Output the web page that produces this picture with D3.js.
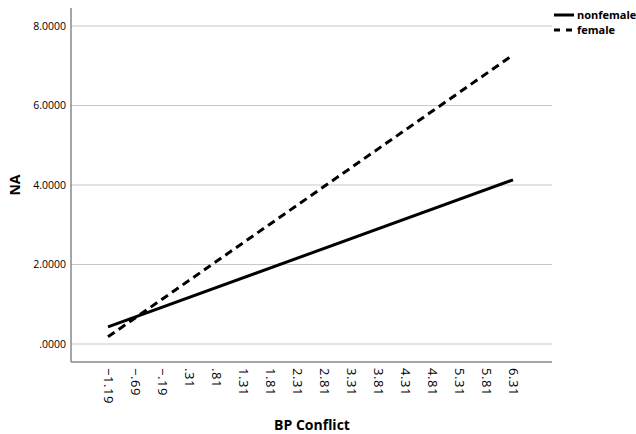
<!DOCTYPE html>
<html>
<head>
<meta charset="utf-8">
<script src="https://cdn.jsdelivr.net/npm/d3@7"></script>
<style>
  html, body { margin: 0; padding: 0; background: #fff; }
  svg { display: block; }
  text { font-family: "Open Sans", "DejaVu Sans", sans-serif; fill: #000; }
</style>
</head>
<body>
<svg id="chart" width="636" height="434"></svg>
<script>
// Category labels on the BP Conflict axis
const xCategories = ["-1.19", "-.69", "-.19", ".31", ".81", "1.31", "1.81", "2.31",
                     "2.81", "3.31", "3.81", "4.31", "4.81", "5.31", "5.81", "6.31"];
// Predicted NA at the ends of the BP Conflict range
const lineX = ["-1.19", "6.31"];
const nonfemaleValues = [0.43, 4.13];
const femaleValues = [0.18, 7.27];
const yTicks = [0, 2, 4, 6, 8];
const seriesNames = ["nonfemale", "female"];

const svg = d3.select("#chart");
const plot = { left: 71, right: 552, top: 8, bottom: 362 };

const x = d3.scalePoint()
  .domain(xCategories)
  .range([108, 513]);

const y = d3.scaleLinear()
  .domain([0, 8])
  .range([344, 26]);

// horizontal gridlines
svg.append("g")
  .selectAll("line")
  .data(yTicks)
  .join("line")
  .attr("x1", plot.left)
  .attr("x2", plot.right)
  .attr("y1", d => y(d))
  .attr("y2", d => y(d))
  .attr("stroke", "#c8c8c8")
  .attr("stroke-width", 1);

// y axis
const yAxis = svg.append("g")
  .attr("transform", `translate(${plot.left},0)`)
  .call(d3.axisLeft(y).tickValues(yTicks).tickSize(0).tickPadding(5)
    .tickFormat(d => d === 0 ? ".0000" : d3.format(".4f")(d)));
yAxis.select(".domain").remove();
yAxis.selectAll("text")
  .attr("font-size", 10.5)
  .attr("font-family", "\"Open Sans\", sans-serif")
  .attr("fill", "#111");
svg.append("line")
  .attr("x1", plot.left).attr("x2", plot.left)
  .attr("y1", plot.top).attr("y2", plot.bottom)
  .attr("stroke", "#888").attr("stroke-width", 1.5);

// x axis
const fmtX = s => s.replace("-", "\u2212");
const xAxis = svg.append("g")
  .attr("transform", `translate(0,${plot.bottom})`)
  .call(d3.axisBottom(x).tickSize(0).tickFormat(fmtX));
xAxis.select(".domain").remove();
xAxis.selectAll("text")
  .attr("font-size", 13)
  .attr("letter-spacing", 0.6)
  .attr("text-anchor", "start")
  .attr("dy", null)
  .attr("y", 0)
  .attr("transform", "translate(-5,6) rotate(90)")
  .attr("fill", "#111");
svg.append("line")
  .attr("x1", plot.left).attr("x2", plot.right)
  .attr("y1", plot.bottom).attr("y2", plot.bottom)
  .attr("stroke", "#888").attr("stroke-width", 1.5);

// series lines
const line = d3.line()
  .x(d => x(d[0]))
  .y(d => y(d[1]));

svg.append("path")
  .datum(lineX.map((c, i) => [c, nonfemaleValues[i]]))
  .attr("d", line)
  .attr("fill", "none")
  .attr("stroke", "#000")
  .attr("stroke-width", 3);

svg.append("path")
  .datum(lineX.map((c, i) => [c, femaleValues[i]]))
  .attr("d", line)
  .attr("fill", "none")
  .attr("stroke", "#000")
  .attr("stroke-width", 3)
  .attr("stroke-dasharray", "8,5");

// axis titles
svg.append("text")
  .attr("x", 312).attr("y", 430)
  .attr("text-anchor", "middle")
  .attr("font-size", 14).attr("font-weight", "bold")
  .text("BP Conflict");

svg.append("text")
  .attr("transform", "translate(20,185) rotate(-90)")
  .attr("text-anchor", "middle")
  .attr("font-size", 14).attr("font-weight", "bold")
  .text("NA");

// legend
const legend = svg.append("g");
seriesNames.forEach((name, i) => {
  const ly = 15 + i * 15;
  legend.append("line")
    .attr("x1", 554).attr("x2", 574)
    .attr("y1", ly).attr("y2", ly)
    .attr("stroke", "#000").attr("stroke-width", 3)
    .attr("stroke-dasharray", i === 1 ? "6,6" : null);
  legend.append("text")
    .attr("x", 577).attr("y", ly + 4)
    .attr("font-size", 11).attr("font-weight", "bold")
    .text(name);
});
</script>
</body>
</html>
